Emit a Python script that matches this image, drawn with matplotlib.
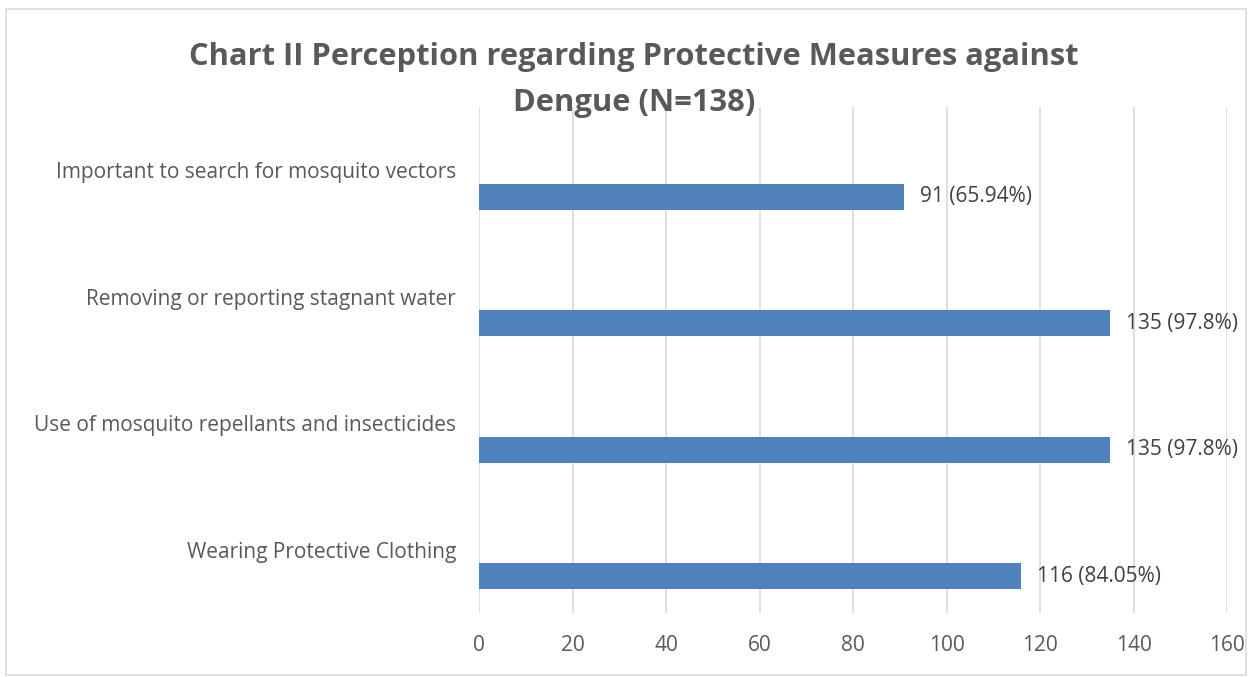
import matplotlib.pyplot as plt
from matplotlib.patches import Rectangle

# -----------------------------
# DATA
# -----------------------------
categories = [
    "Important to search for mosquito vectors",
    "Removing or reporting stagnant water",
    "Use of mosquito repellants and insecticides",
    "Wearing Protective Clothing",
]
counts = [91, 135, 135, 116]
bar_labels = ["91 (65.94%)", "135 (97.8%)", "135 (97.8%)", "116 (84.05%)"]
xticks = [0, 20, 40, 60, 80, 100, 120, 140, 160]

title = "Chart II Perception regarding Protective Measures against\nDengue (N=138)"

W, H = 1254, 677
plt.rcParams['font.family'] = ['Open Sans', 'DejaVu Sans']

fig = plt.figure(figsize=(W / 100, H / 100), dpi=100)

# outer chart border
fig.patches.append(Rectangle((6 / W, 1 - 675 / H), 1240 / W, 666 / H,
                             transform=fig.transFigure, fill=False,
                             edgecolor="#d9d9d9", linewidth=1.2))

ax = fig.add_axes([479 / W, 1 - 613 / H, 748 / W, 506 / H])

ypos = list(range(len(categories)))
bar_off = 0.21
ax.barh([y + bar_off for y in ypos], counts, height=0.205, color="#4f81bd", zorder=3)

for y, v, lab in zip(ypos, counts, bar_labels):
    ax.text(v + 3.3, y + bar_off, lab, va="center", ha="left",
            fontsize=15, color="#404040", zorder=4)

ax.set_xlim(0, 160)
ax.set_ylim(3.5, -0.5)
ax.set_xticks(xticks)
ax.set_yticks(ypos)
ax.set_yticklabels(categories)
ax.grid(axis="x", color="#d9d9d9", linewidth=1.2, zorder=0)
ax.tick_params(axis="both", length=0, labelsize=15, colors="#595959")
ax.tick_params(axis="y", pad=16.5)
ax.tick_params(axis="x", pad=16)
for s in ax.spines.values():
    s.set_visible(False)

fig.text(634 / W, 1 - 80 / H, title, ha="center", va="center",
         fontsize=22.2, fontweight="bold", color="#595959", linespacing=1.7)

fig.savefig("out.png", dpi=100)
